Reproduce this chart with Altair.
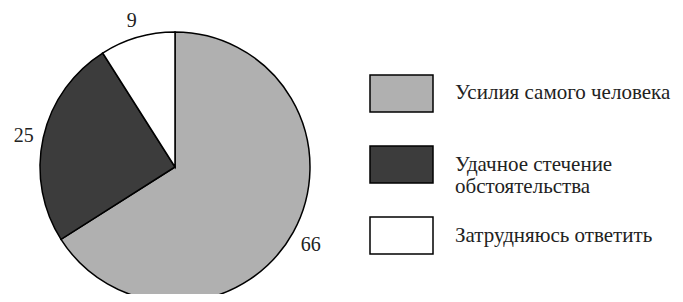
import altair as alt
import pandas as pd

categories = ["Усилия самого человека", "Удачное стечение обстоятельства", "Затрудняюсь ответить"]
values = [66, 25, 9]
legend_labels = ["Усилия самого человека", "Удачное стечение\nобстоятельства", "Затрудняюсь ответить"]
colors = ["#b0b0b0", "#3c3c3c", "#ffffff"]

df = pd.DataFrame({"category": categories, "value": values, "legend": legend_labels})

FONT = "Liberation Serif"
CX, CY = 167, 159

base = alt.Chart(df)
color_enc = alt.Color("category:N", scale=alt.Scale(domain=categories, range=colors), legend=None)
theta_enc = alt.Theta("value:Q", stack=True)
order_enc = alt.Order("value:Q", sort="descending")

pie = base.mark_arc(outerRadius=135, stroke="black", strokeWidth=1.5).encode(
    theta=theta_enc, order=order_enc, color=color_enc,
    x=alt.value(CX), y=alt.value(CY),
)

pie_labels = base.mark_text(radius=155, dy=3, font=FONT, fontSize=20, color="#222").encode(
    theta=theta_enc, order=order_enc, text="value:Q",
    x=alt.value(CX), y=alt.value(CY),
)

legend_y = alt.Y(
    "category:N",
    scale=alt.Scale(domain=categories, range=[67, 246], paddingInner=0.479, paddingOuter=0),
    axis=None,
)

boxes = base.mark_rect(stroke="black", strokeWidth=1.5).encode(
    x=alt.value(362), x2=alt.value(425), y=legend_y, color=color_enc,
)

legend_text = base.mark_text(
    align="left", baseline="middle", font=FONT, fontSize=21, lineBreak="\n",
    lineHeight=22, color="#222",
).encode(x=alt.value(447), y=legend_y, text="legend:N")

chart = alt.layer(pie, pie_labels, boxes, legend_text).properties(
    width=667, height=286, padding=0, autosize=alt.AutoSizeParams(type="none"),
).configure_view(stroke=None)

chart.save("out.html", embed_options={"renderer": "svg", "actions": False})
